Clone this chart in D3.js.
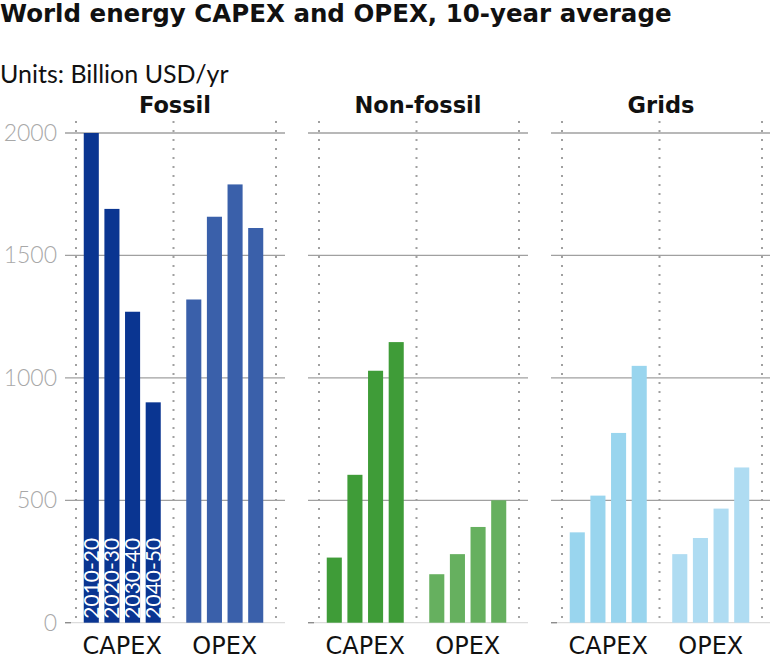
<!DOCTYPE html>
<html>
<head>
<meta charset="utf-8">
<script src="https://cdn.jsdelivr.net/npm/d3@7"></script>
<style>
  body { margin: 0; background: #fff; }
  text { font-family: Lato, "Open Sans", sans-serif; }
  .wide { font-family: "DejaVu Sans", sans-serif; }
</style>
</head>
<body>
<svg id="chart" width="770" height="660"></svg>
<script>
/* data */
const sectors = ['Fossil', 'Non-fossil', 'Grids'];
const costTypes = ['CAPEX', 'OPEX'];
const periods = ['2010-20', '2020-30', '2030-40', '2040-50'];
const fossilCapex = [2000, 1690, 1270, 900];
const fossilOpex = [1320, 1658, 1790, 1612];
const nonFossilCapex = [266, 604, 1029, 1146];
const nonFossilOpex = [198, 280, 391, 500];
const gridsCapex = [369, 519, 775, 1049];
const gridsOpex = [280, 346, 466, 634];
const yTicks = [0, 500, 1000, 1500, 2000];

const values = {
  Fossil: { CAPEX: fossilCapex, OPEX: fossilOpex },
  'Non-fossil': { CAPEX: nonFossilCapex, OPEX: nonFossilOpex },
  Grids: { CAPEX: gridsCapex, OPEX: gridsOpex },
};
const colors = {
  Fossil: { CAPEX: '#0a3591', OPEX: '#3a60aa' },
  'Non-fossil': { CAPEX: '#3f9c38', OPEX: '#66b05f' },
  Grids: { CAPEX: '#99d5ee', OPEX: '#afdcf2' },
};

const svg = d3.select('#chart');

/* titles */
svg.append('text')
  .attr('class', 'wide')
  .attr('x', 0).attr('y', 22)
  .attr('font-size', 24.5).attr('font-weight', 700)
  .attr('fill', '#111')
  .text('World energy CAPEX and OPEX, 10-year average');

svg.append('text')
  .attr('x', 0).attr('y', 83)
  .attr('font-size', 25)
  .attr('fill', '#111')
  .text('Units: Billion USD/yr');

/* scales */
const panelWidth = 220;
const panelX = d3.scaleBand().domain(sectors).range([65, 771]).paddingInner(23 / 243).paddingOuter(0);
const y = d3.scaleLinear().domain([0, 2000]).range([622.7, 133]);
const groupX = d3.scaleBand().domain(costTypes).range([6, 211]);

/* y axis labels */
svg.append('g')
  .selectAll('text')
  .data(yTicks)
  .join('text')
  .attr('x', 57)
  .attr('y', (d) => y(d))
  .attr('dy', '0.35em')
  .attr('text-anchor', 'end')
  .attr('font-size', 23)
  .attr('font-weight', 300)
  .attr('fill', '#a8a8a8')
  .text((d) => d);

sectors.forEach((sector) => {
  const g = svg.append('g').attr('transform', `translate(${panelX(sector)},0)`);

  /* facet title */
  g.append('text')
    .attr('class', 'wide')
    .attr('x', panelWidth / 2).attr('y', 113)
    .attr('text-anchor', 'middle')
    .attr('font-size', 22.5).attr('font-weight', 700)
    .attr('fill', '#111')
    .text(sector);

  /* dotted separators */
  const mid = (groupX('CAPEX') + groupX('OPEX') + groupX.bandwidth()) / 2;
  g.selectAll('line.dot')
    .data([11, mid, 211])
    .join('line')
    .attr('class', 'dot')
    .attr('x1', (d) => d).attr('x2', (d) => d)
    .attr('y1', y(2000) - 12).attr('y2', y(0))
    .attr('stroke', '#a0a0a0')
    .attr('stroke-width', 2)
    .attr('stroke-dasharray', '2,7');

  /* horizontal grid */
  g.selectAll('line.grid')
    .data(yTicks.filter((d) => d > 0))
    .join('line')
    .attr('class', 'grid')
    .attr('x1', 0).attr('x2', panelWidth)
    .attr('y1', (d) => y(d)).attr('y2', (d) => y(d))
    .attr('stroke', '#a0a0a0')
    .attr('stroke-width', 1.3);

  g.append('line')
    .attr('x1', 0).attr('x2', panelWidth)
    .attr('y1', y(0)).attr('y2', y(0))
    .attr('stroke', '#dcdcdc')
    .attr('stroke-width', 1.3);
  g.append('line')
    .attr('x1', 0).attr('x2', 6)
    .attr('y1', y(0)).attr('y2', y(0))
    .attr('stroke', '#888')
    .attr('stroke-width', 1.3);

  costTypes.forEach((ct) => {
    const c = groupX(ct) + groupX.bandwidth() / 2;
    const barX = d3.scaleBand().domain(periods).range([c - 38.5, c + 38.5])
      .paddingInner(0.27).paddingOuter(0);
    const rows = periods.map((p, i) => ({ period: p, value: values[sector][ct][i] }));

    g.selectAll(`rect.${ct}`)
      .data(rows)
      .join('rect')
      .attr('class', ct)
      .attr('x', (d) => barX(d.period))
      .attr('width', barX.bandwidth())
      .attr('y', (d) => y(d.value))
      .attr('height', (d) => y(0) - y(d.value))
      .attr('fill', colors[sector][ct]);

    /* period labels inside first group of bars */
    if (sector === 'Fossil' && ct === 'CAPEX') {
      g.selectAll('text.period')
        .data(rows)
        .join('text')
        .attr('class', 'period')
        .attr('transform', (d) => `translate(${barX(d.period) + barX.bandwidth() / 2},${y(0) - 4}) rotate(-90)`)
        .attr('dy', '0.36em')
        .attr('font-size', 21)
        .attr('fill', '#fff')
        .text((d) => d.period);
    }

    g.append('text')
      .attr('class', 'wide')
      .attr('x', c).attr('y', 654)
      .attr('text-anchor', 'middle')
      .attr('font-size', 24)
      .attr('fill', '#111')
      .text(ct);
  });
});
</script>
</body>
</html>
